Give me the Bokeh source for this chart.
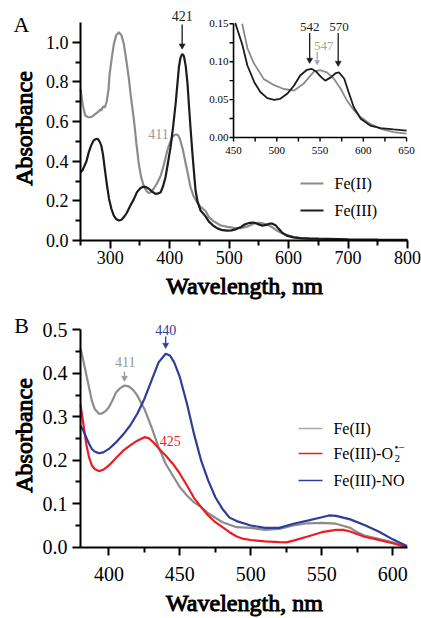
import numpy as np
from bokeh.plotting import figure
from bokeh.layouts import column
from bokeh.models import Range1d, FixedTicker
from bokeh.embed import file_html
from bokeh.resources import INLINE
from bokeh.core.properties import value

SERIF = "Liberation Serif"

# ---------------- Panel A data ----------------
wl_fe2_a = [250, 254, 258, 263, 267, 271, 275, 279, 281, 283, 285, 288, 291, 294, 297, 299, 303, 306, 310,
            314.5, 319, 323, 327, 331, 335, 340, 344, 348, 352, 357, 361, 365, 369, 373, 379, 385, 390, 396,
            400, 404, 408, 411.5, 415, 418, 422, 427, 431, 435, 440, 446, 452, 460, 466, 473, 485, 497, 508,
            520, 531, 543, 550, 558, 566, 574, 581, 589, 597, 608, 620, 635, 650, 700, 750, 800]
abs_fe2_a = [0.765, 0.68, 0.631, 0.622, 0.622, 0.628, 0.639, 0.648, 0.652, 0.662, 0.655, 0.676, 0.672, 0.70,
             0.76, 0.84, 0.93, 0.99, 1.035, 1.051, 1.035, 0.99, 0.91, 0.824, 0.72, 0.605, 0.49, 0.387, 0.32,
             0.269, 0.25, 0.239, 0.245, 0.261, 0.29, 0.328, 0.38, 0.454, 0.49, 0.521, 0.532, 0.535, 0.528,
             0.505, 0.46, 0.387, 0.33, 0.27, 0.225, 0.193, 0.17, 0.15, 0.118, 0.099, 0.077, 0.069, 0.064,
             0.062, 0.071, 0.087, 0.089, 0.086, 0.0775, 0.064, 0.049, 0.036, 0.027, 0.018, 0.0115, 0.007,
             0.005, 0.003, 0.002, 0.001]

wl_fe3_a = [250, 253, 256, 260, 264, 268, 272, 276, 279, 282, 285, 288, 290.5, 294, 298, 302, 306, 310, 314.5,
            319, 323, 328, 334, 340, 345, 351, 356.5, 361, 365, 370, 376, 381, 385, 389, 393, 397, 401.5, 406,
            410, 413, 415.5, 418, 421, 424, 427, 430, 432, 435, 438, 441, 443.5, 447, 452, 460, 466, 474,
            481, 489, 497, 504, 512, 520, 527, 535, 540, 545, 551, 556, 562, 568, 572, 578, 583, 589, 597,
            608, 620, 635, 650, 700, 750, 800]
abs_fe3_a = [0.345, 0.352, 0.372, 0.40, 0.446, 0.48, 0.505, 0.512, 0.513, 0.50, 0.479, 0.43, 0.37, 0.29, 0.21,
             0.16, 0.126, 0.108, 0.101, 0.105, 0.118, 0.14, 0.177, 0.21, 0.244, 0.265, 0.272, 0.268, 0.261,
             0.248, 0.235, 0.238, 0.244, 0.275, 0.319, 0.39, 0.471, 0.58, 0.69, 0.79, 0.874, 0.92, 0.942,
             0.93, 0.88, 0.79, 0.70, 0.57, 0.45, 0.34, 0.252, 0.195, 0.151, 0.123, 0.095, 0.073, 0.060,
             0.052, 0.0497, 0.051, 0.0576, 0.0686, 0.0818, 0.0893, 0.0906, 0.0875, 0.080, 0.075, 0.079,
             0.0848, 0.0858, 0.0775, 0.060, 0.040, 0.0247, 0.0158, 0.0123, 0.0106, 0.0092, 0.006, 0.004,
             0.003]

a_xbounds = (250, 800)
a_ybounds = (0.0, 1.1)
a_xticks = [300, 400, 500, 600, 700, 800]
a_xtick_labels = ["300", "400", "500", "600", "700", "800"]
a_xminor = [250, 350, 450, 550, 650, 750]
a_yticks = [0.0, 0.2, 0.4, 0.6, 0.8, 1.0]
a_ytick_labels = ["0.0", "0.2", "0.4", "0.6", "0.8", "1.0"]
a_yminor = [0.1, 0.3, 0.5, 0.7, 0.9]

inset_xbounds = (450, 650)
inset_ybounds = (0.0, 0.15)
inset_xticks = [450, 475, 500, 525, 550, 575, 600, 625, 650]
inset_xlabel_pos = [450, 500, 550, 600, 650]
inset_xlabels = ["450", "500", "550", "600", "650"]
inset_yticks = [0.0, 0.025, 0.05, 0.075, 0.10, 0.125, 0.15]
inset_ylabel_pos = [0.0, 0.05, 0.10, 0.15]
inset_ylabels = ["0.00", "0.05", "0.10", "0.15"]

a_peak = 421
inset_peak_labels = ["542", "547", "570"]

# ---------------- Panel B data ----------------
wl_fe2_b = [380, 383, 385, 388, 390, 393, 395, 398, 400, 403, 405, 408, 411, 414, 417, 420, 425, 430, 435,
            440, 445, 450, 455, 460, 465, 470, 480, 490, 500, 510, 520, 530, 540, 550, 560, 570, 575, 580,
            590, 600, 610]
abs_fe2_b = [0.458, 0.414, 0.383, 0.337, 0.318, 0.307, 0.307, 0.314, 0.322, 0.341, 0.356, 0.366, 0.372,
             0.37, 0.362, 0.349, 0.318, 0.276, 0.23, 0.192, 0.165, 0.138, 0.119, 0.103, 0.092, 0.078,
             0.0575, 0.046, 0.0445, 0.040, 0.042, 0.05, 0.055, 0.056, 0.054, 0.0445, 0.0345, 0.027,
             0.019, 0.0115, 0.0015]

wl_o2_b = [380, 382, 384, 386, 388, 390, 393, 396, 400, 405, 410, 415, 420, 425, 428, 432, 436, 440, 445,
           450, 455, 460, 465, 470, 475, 480, 485, 490, 495, 500, 510, 520, 525, 530, 540, 550, 560, 565,
           570, 580, 590, 600, 610]
abs_o2_b = [0.328, 0.284, 0.238, 0.207, 0.188, 0.18, 0.175, 0.178, 0.188, 0.205, 0.222, 0.234, 0.245,
            0.253, 0.251, 0.239, 0.224, 0.211, 0.192, 0.169, 0.142, 0.113, 0.092, 0.073, 0.0575, 0.046,
            0.0345, 0.0245, 0.019, 0.0165, 0.0135, 0.0115, 0.011, 0.015, 0.0245, 0.0345, 0.040, 0.040,
            0.036, 0.024, 0.017, 0.009, 0.0]

wl_no_b = [380, 382, 384, 386, 388, 390, 393, 396, 400, 405, 410, 415, 420, 425, 430, 435, 440, 443, 446,
           450, 455, 460, 465, 470, 475, 480, 485, 490, 500, 510, 520, 530, 540, 550, 555, 560, 570, 580,
           590, 600, 605, 610]
abs_no_b = [0.28, 0.268, 0.253, 0.238, 0.226, 0.22, 0.216, 0.218, 0.226, 0.241, 0.259, 0.28, 0.307, 0.341,
            0.383, 0.425, 0.445, 0.441, 0.425, 0.391, 0.33, 0.26, 0.199, 0.153, 0.115, 0.088, 0.068,
            0.060, 0.05, 0.0445, 0.0445, 0.054, 0.061, 0.069, 0.073, 0.072, 0.064, 0.051, 0.036, 0.018,
            0.0105, 0.003]

b_xbounds = (380, 610)
b_ybounds = (0.0, 0.5)
b_xticks = [400, 450, 500, 550, 600]
b_xtick_labels = ["400", "450", "500", "550", "600"]
b_xminor = [425, 475, 525, 575]
b_yticks = [0.0, 0.1, 0.2, 0.3, 0.4, 0.5]
b_ytick_labels = ["0.0", "0.1", "0.2", "0.3", "0.4", "0.5"]
b_yminor = [0.05, 0.15, 0.25, 0.35, 0.45]

b_peaks = [411, 425, 440]

GRAY = "#8c8c8c"
GRAY_TXT = "#999999"
GRAY_LT = "#a6a6a6"
BLACK = "#1c1c1c"
RED = "#ec1c24"
BLUE = "#2d3e98"

W = 421


def map_range(d0, d1, p0, p1, c0, c1):
    """Range whose ends fall on canvas pixels c0..c1 when d0 sits at pixel p0, d1 at p1."""
    s = (p1 - p0) / (d1 - d0)
    a = d0 + (c0 - p0) / s
    b = d0 + (c1 - p0) / s
    return Range1d(min(a, b), max(a, b))


def make_fig(h, xr, yr):
    p = figure(width=W, height=h, x_range=xr, y_range=yr, output_backend="svg",
               toolbar_location=None, min_border=0, min_border_left=0, min_border_right=0,
               min_border_top=0, min_border_bottom=0)
    p.outline_line_color = None
    p.xgrid.visible = False
    p.ygrid.visible = False
    return p


def axes(p, xb, yb, xt, xm, yt, ym):
    p.xaxis.fixed_location = yb[0]
    p.yaxis.fixed_location = xb[0]
    p.xaxis.bounds = xb
    p.yaxis.bounds = yb
    p.xaxis.ticker = FixedTicker(ticks=xt, minor_ticks=xm)
    p.yaxis.ticker = FixedTicker(ticks=yt, minor_ticks=ym)
    for ax in (p.xaxis, p.yaxis):
        ax.axis_line_width = 2
        ax.axis_line_color = "black"
        ax.major_tick_line_width = 2
        ax.minor_tick_line_width = 2
        ax.major_tick_out = 8
        ax.major_tick_in = 0
        ax.minor_tick_out = 5
        ax.minor_tick_in = 0
        ax.major_label_text_color = None


def txt(g, x, y, t, size, color="black", align="center", baseline="middle", **kw):
    g.text(x=x, y=y, text=t, text_font=value(SERIF), text_font_size=size, text_color=color,
           text_align=align, text_baseline=baseline, **kw)


def bold_txt(g, x, y, t, size, **kw):
    # heavy serif title: regular serif face with an outline stroke
    txt(g, x, y, t, size, text_outline_color="black", **kw)


def arrow(g, x, y_top, y_head, color, head, lw=1.3):
    g.segment(x0=x, y0=y_top, x1=x, y1=y_head, line_color=color, line_width=lw)
    g.scatter(x=x, y=y_head, marker="inverted_triangle", size=head, fill_color=color,
              line_color=color, line_width=0.5)


# ================= Panel A =================
HA = 305
pA = make_fig(HA,
              map_range(a_xbounds[0], a_xbounds[1], 80, 407, 0, W),
              map_range(a_ybounds[0], a_ybounds[1], 240, 22, 0, HA))
axes(pA, a_xbounds, a_ybounds, a_xticks, a_xminor, a_yticks, a_yminor)

pA.line(wl_fe2_a, abs_fe2_a, line_color=GRAY, line_width=2.2)
pA.line(wl_fe3_a, abs_fe3_a, line_color=BLACK, line_width=2.2)

# tick labels and axis titles
txt(pA, a_xticks, [a_ybounds[0]] * len(a_xticks), a_xtick_labels, "18px", y_offset=17)
txt(pA, [a_xbounds[0]] * len(a_yticks), a_yticks, a_ytick_labels, "18px", align="right", x_offset=-12)
bold_txt(pA, [526], [a_ybounds[0]], ["Wavelength, nm"], "24px", y_offset=45)
bold_txt(pA, [a_xbounds[0]], [0.565], ["Absorbance"], "24px", x_offset=-57, angle=np.pi / 2)
txt(pA, [a_xbounds[0]], [a_ybounds[1]], ["A"], "22px", x_offset=-59, y_offset=2)

# peak annotations
arrow(pA, [a_peak], [1.09], [0.983], BLACK, 6)
txt(pA, [a_peak], [a_ybounds[1]], [str(a_peak)], "14px", color=BLACK, y_offset=-7)
txt(pA, [381], [0.535], ["411"], "14px", color=GRAY_TXT)

# legend A
leg_a_y = [0.2876, 0.1514]
pA.segment(x0=[620, 620], y0=leg_a_y, x1=[658.7, 658.7], y1=leg_a_y,
           line_color=[GRAY, BLACK], line_width=2.2)
txt(pA, [677.2, 677.2], leg_a_y, ["Fe(II)", "Fe(III)"], "16px", align="left")

# ---- inset ----
ins = pA.subplot(x_source=Range1d(*inset_xbounds), y_source=Range1d(*inset_ybounds),
                 x_target=Range1d(507.4, 798.4), y_target=Range1d(0.5197, 1.0935))

w2 = np.array(wl_fe2_a); a2 = np.array(abs_fe2_a)
m2 = (w2 >= inset_xbounds[0]) & (w2 <= inset_xbounds[1]) & (a2 <= 0.151)
w3 = np.array(wl_fe3_a); a3 = np.array(abs_fe3_a)
m3 = (w3 >= inset_xbounds[0]) & (w3 <= inset_xbounds[1]) & (a3 <= 0.151)
ins.line(w2[m2], a2[m2], line_color=GRAY, line_width=1.8)
ins.line(w3[m3], a3[m3], line_color=BLACK, line_width=1.8)

ins.segment(x0=[inset_xbounds[0], inset_xbounds[0]], y0=[inset_ybounds[0], inset_ybounds[0]],
            x1=[inset_xbounds[1], inset_xbounds[0]], y1=[inset_ybounds[0], inset_ybounds[1]],
            line_color="black", line_width=1.6)
ins.ray(x=inset_xticks, y=[inset_ybounds[0]] * len(inset_xticks), length=4, length_units="screen",
        angle=-np.pi / 2, line_color="black", line_width=1.4)
ins.ray(x=[inset_xbounds[0]] * len(inset_yticks), y=inset_yticks, length=4, length_units="screen",
        angle=np.pi, line_color="black", line_width=1.4)
txt(ins, inset_xlabel_pos, [inset_ybounds[0]] * len(inset_xlabel_pos), inset_xlabels, "11px",
    y_offset=13)
txt(ins, [inset_xbounds[0]] * len(inset_ylabel_pos), inset_ylabel_pos, inset_ylabels, "11px",
    align="right", x_offset=-5)

# arrows sit on the drawn peak maxima; labels give the quoted wavelengths
arrow(ins, [538, 571], [0.138, 0.138], [0.1022, 0.0983], BLACK, 6)
arrow(ins, [546.7], [0.113], [0.0996], GRAY_LT, 5)
txt(ins, [538, 572], [0.1455, 0.1455], [inset_peak_labels[0], inset_peak_labels[2]], "13px",
    color=BLACK)
txt(ins, [554.4], [0.121], [inset_peak_labels[1]], "13px", color=GRAY_LT)

# ================= Panel B =================
HB = 313
pB = make_fig(HB,
              map_range(b_xbounds[0], b_xbounds[1], 80, 406.5, 0, W),
              map_range(b_ybounds[0], b_ybounds[1], 546.7, 329.3, HA, HA + HB))
axes(pB, b_xbounds, b_ybounds, b_xticks, b_xminor, b_yticks, b_yminor)

pB.line(wl_fe2_b, abs_fe2_b, line_color=GRAY, line_width=2.2)
pB.line(wl_o2_b, abs_o2_b, line_color=RED, line_width=2.2)
pB.line(wl_no_b, abs_no_b, line_color=BLUE, line_width=2.2)

txt(pB, b_xticks, [b_ybounds[0]] * len(b_xticks), b_xtick_labels, "20px", y_offset=27)
txt(pB, [b_xbounds[0]] * len(b_yticks), b_yticks, b_ytick_labels, "20px", align="right", x_offset=-13)
bold_txt(pB, [495.5], [b_ybounds[0]], ["Wavelength, nm"], "24px", y_offset=56)
bold_txt(pB, [b_xbounds[0]], [0.257], ["Absorbance"], "24px", x_offset=-57, angle=np.pi / 2)
txt(pB, [b_xbounds[0]], [b_ybounds[1]], ["B"], "22px", x_offset=-59, y_offset=-4)

arrow(pB, [b_peaks[2]], [0.4846], [0.465], BLUE, 6)
arrow(pB, [b_peaks[0]], [0.404], [0.389], GRAY_TXT, 6)
txt(pB, [b_peaks[2]], [b_ybounds[1]], [str(b_peaks[2])], "14px", color=BLUE)
txt(pB, [411.6], [0.427], [str(b_peaks[0])], "14px", color=GRAY_TXT)
txt(pB, [443.3], [0.245], [str(b_peaks[1])], "14px", color=RED)

# legend B
leg_b_y = [0.273, 0.2155, 0.1534]
pB.segment(x0=[533.6] * 3, y0=leg_b_y, x1=[550.5] * 3, y1=leg_b_y,
           line_color=[GRAY_LT, RED, BLUE], line_width=1.6)
txt(pB, [558.2] * 3, leg_b_y, ["Fe(II)", "Fe(III)-O", "Fe(III)-NO"], "16px", align="left")
txt(pB, [558.2], [leg_b_y[1]], ["2"], "11px", align="left", x_offset=61, y_offset=5)
txt(pB, [558.2], [leg_b_y[1]], ["•−"], "11px", align="left", x_offset=61, y_offset=-7)

p = column(pA, pB)
open("out.html", "w").write(file_html(p, INLINE))
